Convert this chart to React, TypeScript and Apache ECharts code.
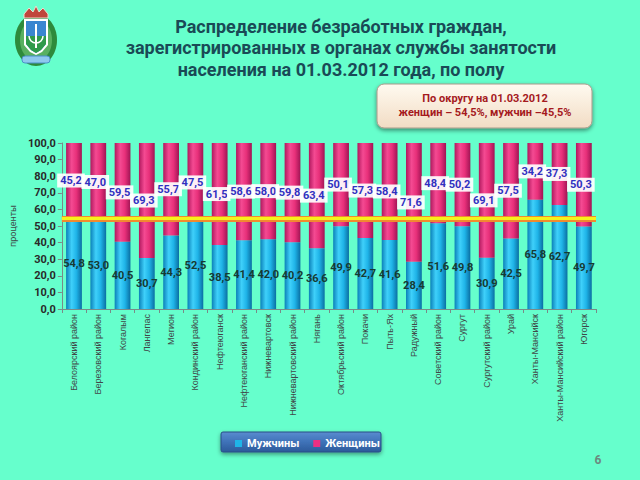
import React, { useEffect, useRef } from "react";
import * as echarts from "echarts";

const categories = [
  "Белоярский район", "Березовский район", "Когалым", "Лангепас", "Мегион",
  "Кондинский район", "Нефтеюганск", "Нефтеюганский район", "Нижневартовск",
  "Нижневартовский район", "Нягань", "Октябрьский район", "Покачи", "Пыть-Ях",
  "Радужный", "Советский район", "Сургут", "Сургутский район", "Урай",
  "Ханты-Мансийск", "Ханты-Мансийский район", "Югорск",
];
const men = [54.8, 53.0, 40.5, 30.7, 44.3, 52.5, 38.5, 41.4, 42.0, 40.2, 36.6, 49.9, 42.7, 41.6, 28.4, 51.6, 49.8, 30.9, 42.5, 65.8, 62.7, 49.7];
const women = [45.2, 47.0, 59.5, 69.3, 55.7, 47.5, 61.5, 58.6, 58.0, 59.8, 63.4, 50.1, 57.3, 58.4, 71.6, 48.4, 50.2, 69.1, 57.5, 34.2, 37.3, 50.3];
const districtWomen = 54.5;
const seriesNames = ["Мужчины", "Женщины"];
const titleLines = [
  "Распределение безработных граждан,",
  "зарегистрированных в органах службы занятости",
  "населения на 01.03.2012 года, по полу",
];
const noteLines = ["По округу на 01.03.2012", "женщин – 54,5%, мужчин –45,5%"];

const fmt = (v: number) => v.toFixed(1).replace(".", ",");

export default function App() {
  const ref = useRef<HTMLDivElement>(null);
  useEffect(() => {
    if (!ref.current) return;
    const chart = echarts.init(ref.current, undefined, { renderer: "svg" });
    const grad = (c: string[]) =>
      new echarts.graphic.LinearGradient(0, 0, 1, 0, [
        { offset: 0, color: c[0] },
        { offset: 0.35, color: c[1] },
        { offset: 0.65, color: c[2] },
        { offset: 1, color: c[3] },
      ]);
    const blue = grad(["#0b80b8", "#3fd0fa", "#1fb4e8", "#0a6ea2"]);
    const pink = grad(["#b0185e", "#f44a92", "#e8307a", "#a01454"]);
    const font = "Roboto, 'Noto Sans', sans-serif";
    chart.setOption({
      animation: false,
      backgroundColor: "#66ffcc",
      textStyle: { fontFamily: font },
      grid: { left: 53, right: 44, top: 143, bottom: 171 },
      legend: {
        left: 235,
        top: 438,
        padding: 0,
        itemWidth: 7,
        itemHeight: 7,
        itemGap: 14,
        icon: "rect",
        data: [
          { name: seriesNames[0], itemStyle: { color: "#1fb4e8" } },
          { name: seriesNames[1], itemStyle: { color: "#ec2f82" } },
        ],
        textStyle: { color: "#ffffff", fontWeight: "bold", fontSize: 11, fontFamily: font },
      },
      xAxis: {
        type: "category",
        data: categories,
        boundaryGap: true,
        axisLine: { lineStyle: { color: "#7a8a88" } },
        axisTick: { show: true, length: 4, lineStyle: { color: "#7a8a88" } },
        axisLabel: { rotate: 90, interval: 0, fontSize: 9, color: "#404848", margin: 5, fontFamily: "'Liberation Sans', Arial, sans-serif" },
      },
      yAxis: {
        type: "value",
        min: 0,
        max: 100,
        interval: 10,
        name: "проценты",
        nameLocation: "middle",
        nameRotate: 90,
        nameGap: 40,
        nameTextStyle: { fontSize: 9, color: "#404848" },
        axisLine: { show: true, lineStyle: { color: "#7a8a88" } },
        axisTick: { show: true, length: 4, inside: false, lineStyle: { color: "#7a8a88" } },
        splitLine: { show: false },
        axisLabel: { formatter: (v: number) => fmt(v), fontSize: 11, fontWeight: "bold", color: "#2a2a2a", margin: 6 },
      },
      series: [
        {
          name: seriesNames[0],
          type: "bar",
          stack: "s",
          barWidth: "65%",
          data: men,
          itemStyle: { color: blue },
          label: {
            show: true,
            position: "inside",
            formatter: (p: any) => fmt(p.value),
            color: "#173a32",
            fontSize: 11,
            fontWeight: "bold",
          },
        },
        {
          name: seriesNames[1],
          type: "bar",
          stack: "s",
          barWidth: "65%",
          data: women,
          itemStyle: { color: pink },
          label: {
            show: true,
            position: "inside",
            offset: [-3, 0],
            formatter: (p: any) => fmt(p.value),
            color: "#3030c0",
            fontSize: 11,
            fontWeight: "bold",
            backgroundColor: "rgba(255,255,255,0.92)",
            padding: [2, 3, 1, 3],
          },
          markLine: {
            silent: true,
            symbol: "none",
            z: 10,
            label: { show: false },
            data: [
              { yAxis: districtWomen, lineStyle: { color: "#f08a30", width: 6, type: "solid" } },
              { yAxis: districtWomen, lineStyle: { color: "#f6f21a", width: 3, type: "solid" } },
            ],
          },
        },
      ],
      graphic: [
        // title
        ...titleLines.map((t, i) => ({
          type: "text",
          x: 341,
          y: 26 + i * 21.5,
          z: 5,
          style: { text: t, fill: "#1a4a56", font: `bold 18px ${font}`, align: "center", verticalAlign: "middle" },
        })),
        // note box
        {
          type: "rect",
          shape: { x: 377, y: 84, width: 215, height: 44, r: 7 },
          style: {
            fill: new echarts.graphic.LinearGradient(0, 0, 0, 1, [
              { offset: 0, color: "#fffaf0" },
              { offset: 1, color: "#f2dcc4" },
            ]),
            stroke: "#a89a8a",
            lineWidth: 1,
            shadowBlur: 4,
            shadowOffsetY: 2,
            shadowColor: "rgba(0,0,0,0.45)",
          },
          z: 5,
        },
        ...noteLines.map((t, i) => ({
          type: "text",
          x: 485,
          y: 98 + i * 14,
          z: 6,
          style: { text: t, fill: "#a51a1e", font: `bold 11px ${font}`, align: "center", verticalAlign: "middle" },
        })),
        // legend box
        {
          type: "rect",
          shape: { x: 221, y: 432, width: 160, height: 20, r: 2 },
          style: {
            fill: new echarts.graphic.LinearGradient(0, 0, 0, 1, [
              { offset: 0, color: "#5a8cd0" },
              { offset: 0.5, color: "#3f72b8" },
              { offset: 1, color: "#2c5a9a" },
            ]),
            stroke: "#2a4f86",
            lineWidth: 1,
            shadowBlur: 4,
            shadowOffsetY: 2,
            shadowColor: "rgba(0,0,0,0.4)",
          },
          z: 0,
        },
        // page number
        {
          type: "text",
          x: 598,
          y: 460,
          style: { text: "6", fill: "#6c8a80", font: `bold 12px ${font}`, align: "center", verticalAlign: "middle" },
        },
        // logo
        {
          type: "group",
          x: 0,
          y: 0,
          children: [
            { type: "ellipse", shape: { cx: 36, cy: 40, rx: 21, ry: 26 }, style: { fill: "#2e8a3c" } },
            { type: "ellipse", shape: { cx: 36, cy: 40, rx: 16, ry: 21 }, style: { fill: "#59b060" } },
            { type: "polygon", shape: { points: [[24, 14], [29, 8], [33, 12], [36, 6], [39, 12], [43, 8], [48, 14], [48, 18], [24, 18]] }, style: { fill: "#c0463c", stroke: "#e8e0d0", lineWidth: 1 } },
            { type: "polygon", shape: { points: [[24, 19], [48, 19], [48, 45], [42, 52], [36, 55], [30, 52], [24, 45]] }, style: { fill: "#ffffff" } },
            { type: "polygon", shape: { points: [[26, 21], [46, 21], [46, 44], [41, 50], [36, 53], [31, 50], [26, 44]] }, style: { fill: "#3a86d0" } },
            { type: "polygon", shape: { points: [[26, 36], [46, 36], [46, 44], [41, 50], [36, 53], [31, 50], [26, 44]] }, style: { fill: "#2f9a4a" } },
            { type: "line", shape: { x1: 36, y1: 24, x2: 36, y2: 48 }, style: { stroke: "#ffffff", lineWidth: 2 } },
            { type: "arc", shape: { cx: 36, cy: 36, r: 7, startAngle: 0, endAngle: Math.PI }, style: { stroke: "#ffffff", lineWidth: 1.5, fill: "none" } },
            { type: "rect", shape: { x: 22, y: 56, width: 28, height: 7, r: 3 }, style: { fill: "#8ec8ee", stroke: "#4a90c8", lineWidth: 1 } },
          ],
        },
      ],
    });
    return () => chart.dispose();
  }, []);
  return <div ref={ref} style={{ position: "fixed", left: 0, top: 0, width: 640, height: 480 }} />;
}
